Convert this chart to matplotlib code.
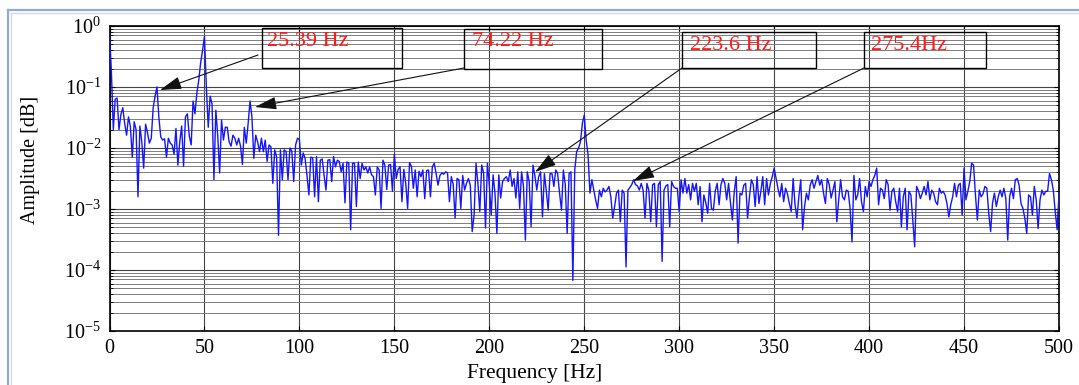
import numpy as np
import matplotlib
matplotlib.use("Agg")
import matplotlib.pyplot as plt
from matplotlib.ticker import LogLocator, NullFormatter
from matplotlib.patches import Rectangle
from matplotlib.lines import Line2D

# ---- data: log10 amplitude read at ~1 Hz steps (0 .. 500 Hz) ----
amp_log10 = [
    -0.12, -0.75, -1.70, -1.20, -1.18, -1.70, -1.45, -1.34, -1.60, -1.79,
    -1.49, -1.65, -2.15, -1.57, -1.70, -2.80, -1.64, -1.90, -2.33, -1.61,
    -1.75, -1.92, -1.84, -1.34, -1.15, -1.00, -1.50, -1.82, -1.87, -1.85,
    -2.15, -1.84, -1.92, -1.95, -2.10, -1.68, -2.28, -1.90, -1.64, -2.30,
    -1.49, -1.44, -1.80, -1.95, -1.23, -1.44, -1.10, -0.89, -0.60, -0.40,
    -0.17, -1.00, -1.66, -1.15, -1.28, -2.52, -1.38, -1.80, -2.41, -1.54,
    -1.87, -1.66, -1.66, -1.90, -1.97, -1.79, -1.84, -1.95, -1.84, -1.97,
    -2.27, -1.66, -1.92, -1.60, -1.23, -1.49, -2.17, -1.79, -1.90, -2.06,
    -1.84, -2.06, -1.87, -2.22, -1.95, -1.98, -2.58, -2.03, -2.15, -3.43,
    -2.03, -2.52, -2.03, -2.06, -2.52, -2.00, -2.05, -2.55, -1.95, -1.84,
    -1.86, -2.28, -2.08, -2.17, -2.45, -2.77, -2.15, -2.16, -2.80, -2.14,
    -2.88, -2.20, -2.18, -2.45, -2.69, -2.20, -2.19, -2.55, -2.14, -2.31,
    -2.20, -2.22, -2.39, -2.25, -2.90, -2.23, -2.25, -3.34, -2.25, -2.25,
    -2.96, -2.23, -2.50, -2.25, -2.36, -2.31, -2.41, -2.31, -2.44, -2.47,
    -2.77, -2.31, -2.36, -2.99, -2.20, -2.28, -2.68, -2.28, -2.27, -2.71,
    -2.10, -2.50, -2.35, -2.31, -2.88, -2.35, -2.58, -2.99, -2.24, -2.30,
    -2.66, -2.36, -2.80, -2.38, -2.47, -2.36, -2.83, -2.37, -2.36, -2.80,
    -2.31, -2.25, -2.42, -2.61, -2.45, -2.41, -2.43, -2.39, -2.41, -2.88,
    -2.47, -2.60, -3.15, -2.50, -2.52, -2.99, -2.45, -2.69, -2.58, -2.50,
    -2.61, -3.37, -3.10, -2.25, -2.58, -3.04, -2.28, -2.41, -3.31, -2.25,
    -2.60, -3.10, -2.44, -2.75, -3.40, -2.44, -2.82, -2.55, -2.50, -2.47,
    -2.55, -2.36, -2.63, -2.50, -2.82, -2.39, -2.99, -2.39, -2.63, -3.51,
    -2.39, -2.55, -3.29, -2.28, -2.45, -2.69, -2.47, -2.39, -3.13, -2.42,
    -2.70, -3.02, -2.42, -2.42, -2.63, -2.36, -2.42, -2.74, -3.02, -2.36,
    -2.60, -3.40, -2.42, -2.39, -4.17, -2.36, -2.06, -2.00, -1.90, -1.60,
    -1.46, -1.87, -2.11, -2.74, -2.52, -2.69, -2.85, -2.99, -2.69, -2.80,
    -2.66, -2.72, -2.69, -2.63, -2.80, -3.15, -2.96, -2.74, -2.69, -3.21,
    -2.69, -2.74, -3.95, -2.69, -2.65, -2.60, -2.52, -2.60, -2.62, -2.69,
    -2.58, -2.69, -3.15, -2.58, -2.69, -3.21, -2.60, -2.58, -3.29, -2.60,
    -2.55, -3.86, -2.69, -2.62, -2.60, -3.29, -2.55, -2.63, -2.66, -2.66,
    -3.04, -2.52, -2.74, -2.50, -2.74, -2.60, -2.85, -2.58, -2.71, -2.58,
    -2.93, -2.63, -3.21, -2.77, -2.90, -3.07, -2.58, -2.99, -3.02, -2.70,
    -2.58, -2.93, -2.60, -2.50, -2.58, -2.85, -2.58, -2.90, -3.18, -2.71,
    -2.47, -3.56, -2.74, -2.77, -2.61, -2.58, -3.15, -2.80, -2.52, -2.60,
    -2.96, -2.47, -2.91, -2.71, -2.47, -2.93, -2.50, -2.77, -2.58, -2.47,
    -2.33, -2.50, -2.66, -2.80, -2.58, -2.88, -2.66, -2.75, -2.91, -3.04,
    -2.50, -2.93, -3.15, -2.80, -2.52, -3.34, -2.96, -2.74, -2.85, -2.61,
    -2.52, -2.66, -2.55, -2.45, -2.61, -2.52, -2.74, -2.91, -2.50, -2.60,
    -2.82, -2.69, -2.55, -3.21, -2.85, -2.52, -2.80, -2.85, -2.69, -2.71,
    -3.00, -3.54, -2.45, -2.85, -2.77, -2.50, -2.88, -3.04, -2.63, -2.80,
    -2.55, -2.63, -2.52, -2.45, -2.33, -2.93, -2.66, -2.69, -2.83, -2.52,
    -2.60, -3.02, -2.71, -2.66, -2.88, -3.04, -2.66, -3.29, -2.80, -2.66,
    -3.34, -2.71, -2.77, -3.18, -3.62, -2.63, -2.70, -2.83, -2.74, -2.63,
    -2.77, -2.55, -2.85, -2.69, -2.74, -2.88, -2.93, -2.66, -2.74, -2.71,
    -2.77, -2.91, -3.13, -2.93, -2.80, -2.58, -2.80, -2.61, -2.58, -3.10,
    -2.33, -2.85, -2.71, -2.55, -2.25, -2.28, -2.77, -3.18, -2.69, -2.80,
    -2.75, -2.63, -2.66, -3.07, -3.37, -2.90, -2.74, -2.96, -2.80, -2.69,
    -2.80, -2.66, -2.83, -3.51, -2.80, -2.66, -2.83, -2.52, -2.50, -2.61,
    -2.91, -2.99, -3.15, -3.40, -2.77, -2.80, -3.10, -2.63, -2.85, -3.32,
    -2.85, -2.69, -2.77, -2.71, -2.71, -2.42, -2.52, -2.69, -3.04, -3.34,
    -2.75,
]
freq_step_hz = 1.0
x_ticks = [0, 50, 100, 150, 200, 250, 300, 350, 400, 450, 500]
annot_labels = ["25.39 Hz", "74.22 Hz", "223.6 Hz", "275.4Hz"]

freq = np.arange(len(amp_log10)) * freq_step_hz
amp = 10.0 ** np.array(amp_log10)

plt.rcParams['font.family'] = ['Liberation Serif', 'DejaVu Serif']
plt.rcParams['mathtext.fontset'] = 'custom'
plt.rcParams['mathtext.rm'] = 'Liberation Serif'
plt.rcParams['mathtext.it'] = 'Liberation Serif:italic'
plt.rcParams['mathtext.bf'] = 'Liberation Serif:bold'

W, H = 1079, 385
fig = plt.figure(figsize=(W / 100, H / 100), dpi=100)
L, R, T, B = 109.5, 1059.0, 26.0, 331.0
ax = fig.add_axes([L / W, (H - B) / H, (R - L) / W, (B - T) / H])

# picture frame
fig.add_artist(Line2D([8 / W, 8 / W], [0, 1 - 10 / H], color='#8fabd3', lw=1.6))
fig.add_artist(Line2D([8 / W, 1], [1 - 10 / H, 1 - 10 / H], color='#8fabd3', lw=1.6))
fig.add_artist(Line2D([10.5 / W, 10.5 / W], [0, 1 - 12.5 / H], color='#d0d9e6', lw=1.0))
fig.add_artist(Line2D([10.5 / W, 1], [1 - 12.5 / H, 1 - 12.5 / H], color='#d0d9e6', lw=1.0))

ax.semilogy(freq, amp, color='#1414ff', lw=1.0, zorder=3)
ax.set_xlim(0, 500)
ax.set_ylim(1e-5, 1)
ax.set_xticks(x_ticks)
ax.yaxis.set_major_locator(LogLocator(base=10, numticks=10))
ax.yaxis.set_minor_locator(LogLocator(base=10, subs=np.arange(2, 10), numticks=20))
ax.yaxis.set_minor_formatter(NullFormatter())

ax.grid(True, which='major', axis='both', color='#444444', lw=0.8, zorder=1)
ax.grid(True, which='minor', axis='y', color='#7c7c7c', lw=0.7, zorder=1)
ax.tick_params(which='both', direction='in', top=True, right=True, labelsize=14.5,
               color='black')
ax.tick_params(axis='x', pad=6)
ax.tick_params(axis='y', pad=6)
for s in ax.spines.values():
    s.set_linewidth(1.2)

ax.set_xlabel('Frequency [Hz]', fontsize=15.5)
ax.xaxis.set_label_coords((535 - L) / (R - L), (B - 364) / (B - T))
ax.set_ylabel('Amplitude [dB]', fontsize=14.5)
ax.yaxis.set_label_coords((40 - L) / (R - L), (B - 160) / (B - T))

def fx(px):
    return (px - L) / (R - L)

def fy(py):
    return (B - py) / (B - T)

boxes = [(262, 28, 402, 68), (464, 29, 602, 69), (682, 32, 816, 68), (864, 32, 986, 68)]
text_pos = [(267, 42), (472, 42), (690, 45), (871, 45)]
arrows = [((258, 55), (160, 90)), ((464, 68), (255, 107)),
          ((682, 68), (535, 172)), ((864, 68), (633, 181))]

for (x0, y0, x1, y1), (tx, ty), lab, (st, tip) in zip(boxes, text_pos, annot_labels, arrows):
    ax.add_patch(Rectangle((fx(x0), fy(y1)), fx(x1) - fx(x0), fy(y0) - fy(y1),
                           transform=ax.transAxes, fill=False, edgecolor='black',
                           lw=1.0, clip_on=False, zorder=5))
    ax.text(fx(tx), fy(ty), lab, transform=ax.transAxes, color='#ff1a1a',
            fontsize=16, ha='left', va='center', zorder=6)
    ax.annotate('', xy=(fx(tip[0]), fy(tip[1])), xycoords='axes fraction',
                xytext=(fx(st[0]), fy(st[1])), textcoords='axes fraction',
                arrowprops=dict(arrowstyle='-|>,head_length=0.95,head_width=0.28',
                                color='#111111', lw=0.8, mutation_scale=14,
                                shrinkA=0, shrinkB=0), zorder=6)

fig.savefig('out.png', dpi=100)
